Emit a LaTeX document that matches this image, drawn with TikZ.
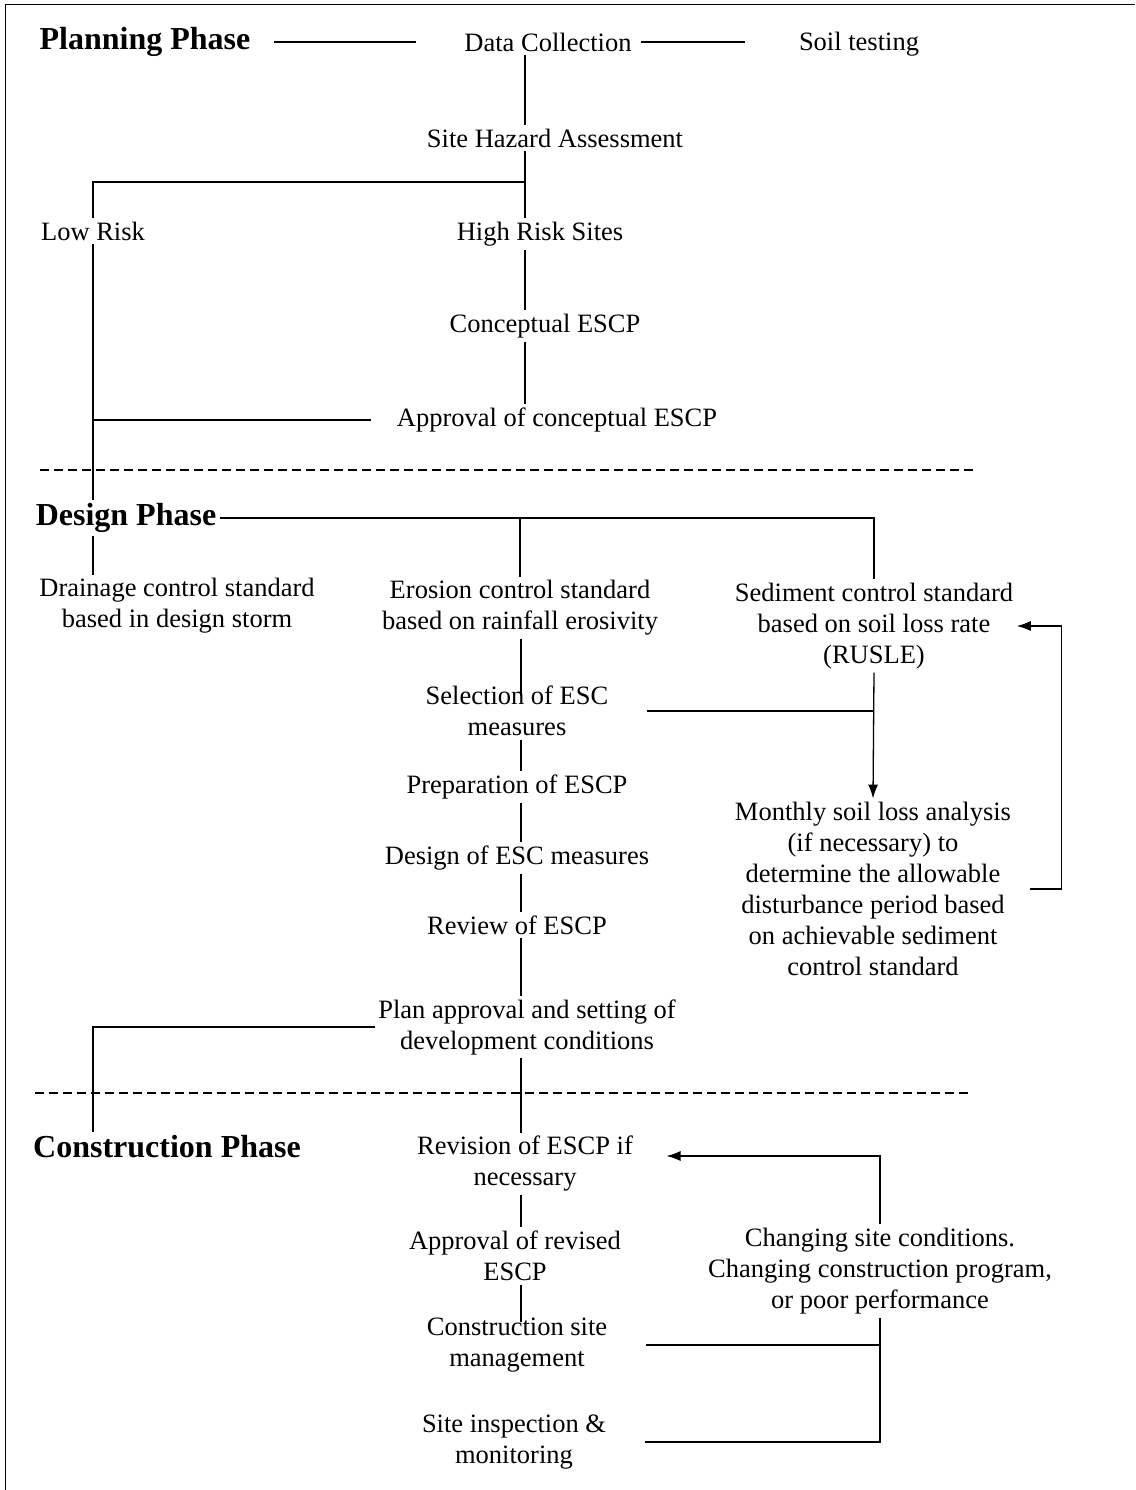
\documentclass[tikz,border=0pt]{standalone}
\usepackage{fontspec}
\setmainfont{Liberation Serif}
\usetikzlibrary{arrows.meta}
\begin{document}
\begin{tikzpicture}[x=1pt,y=-1pt,line width=1.3pt,
  lbl/.style={align=center,font=\fontsize{26.5}{31}\selectfont,inner sep=3pt},
  phase/.style={font=\fontsize{32}{36}\selectfont\bfseries,inner sep=3pt},
  sep/.style={dash pattern=on 9pt off 5pt,line width=1.6pt},
  tip/.style={-{Latex[length=14pt,width=10pt]}}]
\useasboundingbox (0,0) rectangle (1135,1490);
\draw[line width=1pt] (5,1490) -- (5,5) -- (1135,5);
\coordinate (spA) at (525,0);
\coordinate (spB) at (521,0);

% planning phase
\node[phase] (pp) at (145,42) {Planning Phase};
\node[lbl] (dc) at (548,42) {Data Collection};
\node[lbl] (st) at (859,44) {Soil testing};
\node[lbl] (sha) at (555,138) {Site Hazard Assessment};
\node[lbl] (lr) at (93,231) {Low Risk};
\node[lbl] (hrs) at (540,234) {High Risk Sites};
\node[lbl] (cesc) at (545,326) {Conceptual ESCP};
\node[lbl] (acesc) at (557,420) {Approval of conceptual ESCP};
\coordinate (fork) at (525,182);

\draw[shorten <=20pt,shorten >=45pt] (pp) -- (dc);
\draw[shorten <=6pt,shorten >=50pt] (dc.east) -- (dc.east -| st.west);
\draw (dc.south -| spA) -- (sha.north -| spA);
\draw (sha.south -| spA) -- (hrs.north -| spA);
\draw (fork) -| (lr.north);
\draw (hrs.south -| spA) -- (cesc.north -| spA);
\draw (cesc.south -| spA) -- (acesc.north -| spA);
\draw[shorten <=22pt] (acesc.west) -- (acesc.west -| lr);

\draw[sep] (40,470) -- (975,470);

% design phase
\node[phase] (dp) at (126,518) {Design Phase};
\node[lbl] (dcs) at (177,606) {Drainage control standard\\based in design storm};
\node[lbl] (ecs) at (520,608) {Erosion control standard\\based on rainfall erosivity};
\node[lbl] (scs) at (874,626) {Sediment control standard\\based on soil loss rate\\(RUSLE)};
\node[lbl] (sel) at (517,711) {Selection of ESC\\measures};
\node[lbl] (msl) at (873,889) {Monthly soil loss analysis\\(if necessary) to\\determine the allowable\\disturbance period based\\on achievable sediment\\control standard};
\node[lbl] (prep) at (517,787) {Preparation of ESCP};
\node[lbl] (desm) at (517,858) {Design of ESC measures};
\node[lbl] (rev) at (517,925) {Review of ESCP};
\node[lbl] (plan) at (527,1027) {Plan approval and setting of\\development conditions};

\draw (lr.south) -- (lr.south |- dp.north);
\draw (dp.south -| lr) -- (dcs.north -| lr);
\draw (dp.east) -| (scs.north);
\draw (ecs.north |- dp.east) -- (ecs.north);
\draw[shorten >=-14pt] (ecs.south -| spB) -- (sel.north -| spB);
\draw[shorten <=35pt] (sel.east) -- (sel.east -| scs.south);
\draw[tip] (scs.south) -- (msl.north);
\draw[tip] ([xshift=15pt]msl.east) -- ++(32,0) |- (scs.east);
\draw (sel.south -| spB) -- (prep.north -| spB);
\draw (prep.south -| spB) -- (desm.north -| spB);
\draw (desm.south -| spB) -- (rev.north -| spB);
\draw (rev.south -| spB) -- (plan.north -| spB);

\draw[sep] (35,1093) -- (970,1093);

% construction phase
\node[phase] (cp) at (167,1147) {Construction Phase};
\node[lbl] (rev2) at (525,1164) {Revision of ESCP if\\necessary};
\node[lbl] (apr2) at (515,1256) {Approval of revised\\ESCP};
\node[lbl] (chg) at (880,1271) {Changing site conditions.\\Changing construction program,\\or poor performance};
\node[lbl] (csm) at (517,1345) {Construction site\\management};
\node[lbl] (sim) at (514,1442) {Site inspection \&\\monitoring};

\draw (plan.west) -| (cp.north -| lr);
\draw (plan.south -| spB) -- (rev2.north -| spB);
\draw[tip,shorten >=30pt] (chg.north) |- ([yshift=8pt]rev2.east);
\draw (rev2.south -| spB) -- (apr2.north -| spB);
\draw[shorten >=-8pt] (apr2.south -| spB) -- (csm.north -| spB);
\draw[shorten <=35pt] (csm.east) -- (csm.east -| chg.south);
\draw (chg.south) -- (chg.south |- sim.east) -- ([xshift=35pt]sim.east);
\end{tikzpicture}
\end{document}
